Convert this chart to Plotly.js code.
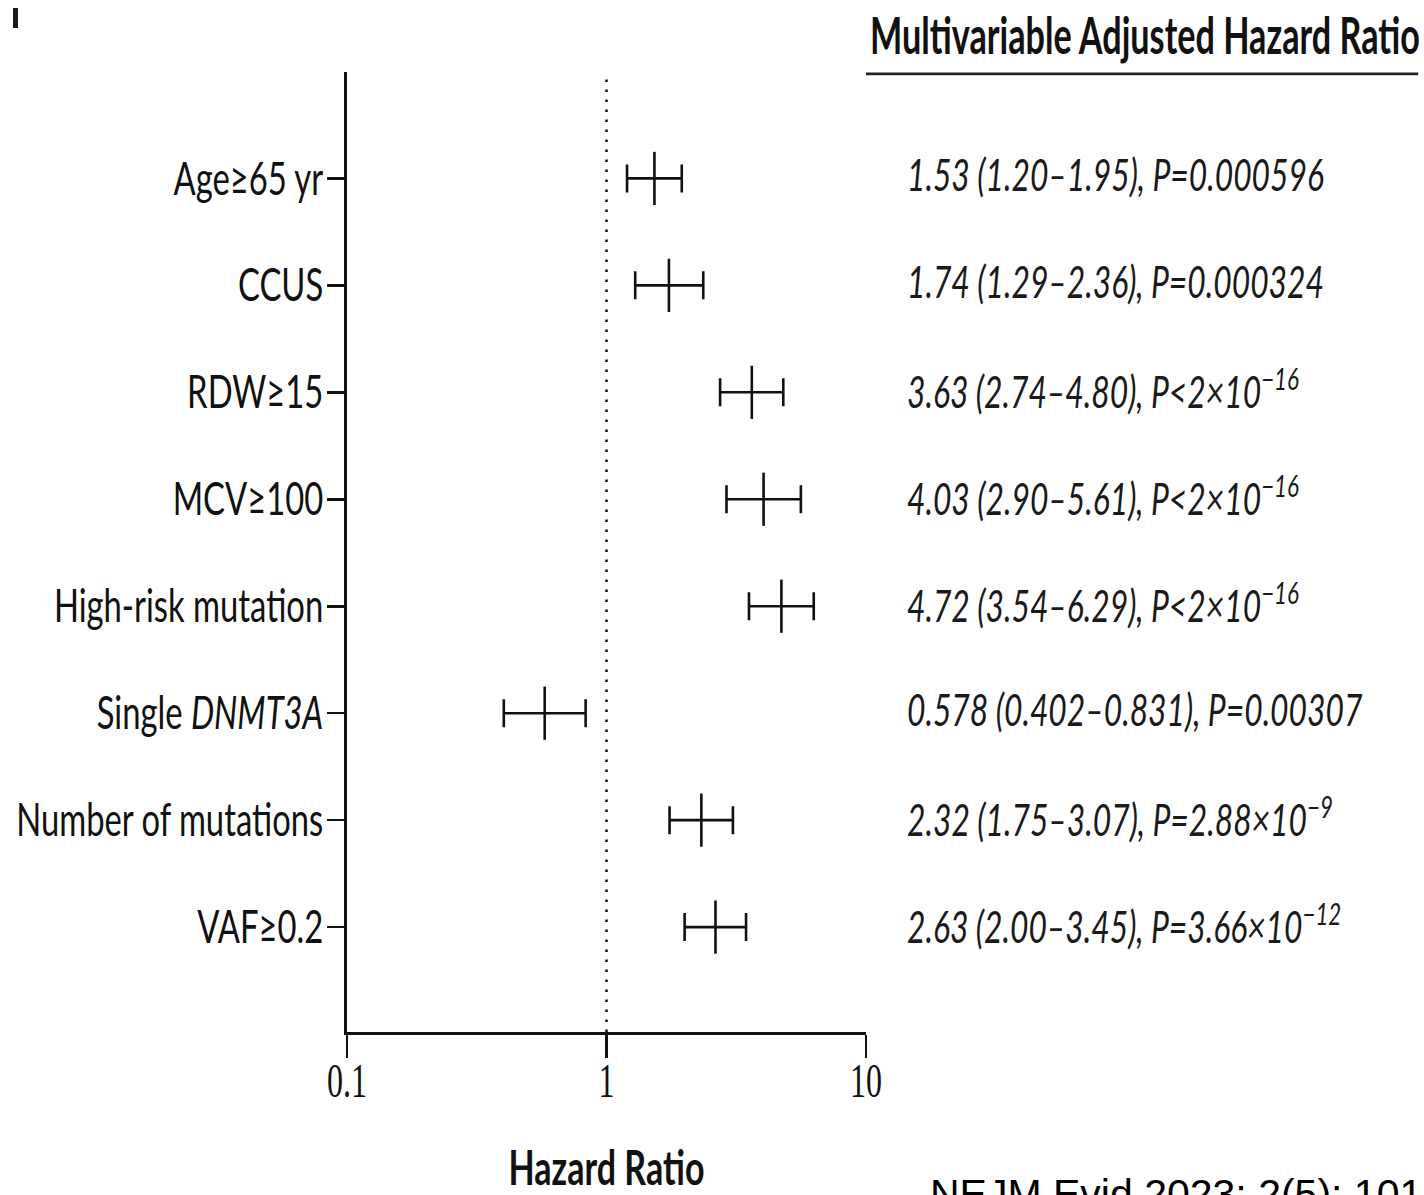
<!DOCTYPE html>
<html>
<head>
<meta charset="utf-8">
<script src="https://cdn.plot.ly/plotly-3.0.1.min.js"></script>
<style>
  html, body { margin: 0; padding: 0; background: #fff; }
  #chart { width: 1424px; height: 1195px; }
</style>
</head>
<body>
<div id="chart"></div>
<script>
// ---- data ----
var categories = ['Age≥65 yr', 'CCUS', 'RDW≥15', 'MCV≥100', 'High-risk mutation',
                  'Single <i>DNMT3A</i>', 'Number of mutations', 'VAF≥0.2'];
var hazardRatio = [1.53, 1.74, 3.63, 4.03, 4.72, 0.578, 2.32, 2.63];
var ciLower     = [1.20, 1.29, 2.74, 2.90, 3.54, 0.402, 1.75, 2.00];
var ciUpper     = [1.95, 2.36, 4.80, 5.61, 6.29, 0.831, 3.07, 3.45];
var pValueText  = ['P=0.000596', 'P=0.000324', 'P<2×10<sup>−16</sup>', 'P<2×10<sup>−16</sup>',
                   'P<2×10<sup>−16</sup>', 'P=0.00307', 'P=2.88×10<sup>−9</sup>', 'P=3.66×10<sup>−12</sup>'];
var xTickVals   = [0.1, 1, 10];
var xTickText   = ['0.1', '1', '10'];

// ---- styling ----
var SANS = 'Lato, "Open Sans", "Liberation Sans", sans-serif';
var SERIF = '"Liberation Serif", "DejaVu Serif", serif';
var idx = categories.map(function (_, i) { return i; });

function fmt(v) { return v < 1 ? v.toFixed(3) : v.toFixed(2); }

var trace = {
  type: 'scatter',
  mode: 'markers',
  x: hazardRatio,
  y: idx,
  marker: { symbol: 'line-ns', size: 38, color: '#000', line: { width: 2.6, color: '#111' } },
  error_x: {
    type: 'data', symmetric: false,
    array: hazardRatio.map(function (v, i) { return ciUpper[i] - v; }),
    arrayminus: hazardRatio.map(function (v, i) { return v - ciLower[i]; }),
    color: '#111', thickness: 2.6, width: 14
  },
  hoverinfo: 'skip',
  showlegend: false
};

var annotations = [];
categories.forEach(function (c, i) {
  annotations.push({
    xref: 'paper', yref: 'y', x: 1.075, y: i, yshift: 4, xanchor: 'left', yanchor: 'middle', align: 'left',
    showarrow: false,
    text: '<i>' + fmt(hazardRatio[i]) + ' (' + fmt(ciLower[i]) + '–' + fmt(ciUpper[i]) + '), ' + pValueText[i] + '</i>',
    font: { family: SANS, size: 44, color: '#1a1a1a' },
    name: 'stat'
  });
});
annotations.push({
  xref: 'paper', yref: 'paper', x: 1.003, y: 1.040, xanchor: 'left', yanchor: 'middle', align: 'left',
  showarrow: false, text: '<b>Multivariable Adjusted Hazard Ratio</b>',
  font: { family: SANS, size: 52, color: '#111' },
  name: 'title'
});
annotations.push({
  xref: 'paper', yref: 'paper', x: 1.1195, y: -0.1427, xanchor: 'left', yanchor: 'top', align: 'left',
  showarrow: false, text: 'NEJM Evid 2023; 2(5): 101',
  font: { family: '"Liberation Sans", Arial, sans-serif', size: 41, color: '#000' },
  name: 'cite'
});

var layout = {
  width: 1424, height: 1195,
  margin: { l: 347, r: 558, t: 72, b: 163, pad: 0 },
  paper_bgcolor: '#fff', plot_bgcolor: '#fff',
  showlegend: false,
  xaxis: {
    type: 'log', range: [-1, 1],
    tickmode: 'array', tickvals: xTickVals, ticktext: xTickText,
    ticks: 'outside', ticklen: 23, tickwidth: 2.6, tickcolor: '#111',
    showline: true, linewidth: 2.6, linecolor: '#111',
    showgrid: false, zeroline: false,
    tickfont: { family: SERIF, size: 48, color: '#111' },
    ticklabelstandoff: -18,
    title: { text: '<b>Hazard Ratio</b>', font: { family: SANS, size: 48, color: '#111' }, standoff: 50 }
  },
  yaxis: {
    range: [7.981, -0.995],
    tickmode: 'array', tickvals: idx, ticktext: categories,
    ticks: 'outside', ticklen: 17, tickwidth: 2.6, tickcolor: '#111',
    showline: true, linewidth: 2.6, linecolor: '#111',
    showgrid: false, zeroline: false,
    tickfont: { family: SANS, size: 46, color: '#111' },
    ticklabelstandoff: -5
  },
  shapes: [
    { type: 'line', xref: 'x', yref: 'paper', x0: 1, x1: 1, y0: 0, y1: 1,
      line: { color: '#111', width: 2.5, dash: '2.5px,7.5px' } },
    { type: 'line', xref: 'paper', yref: 'paper', x0: 1.0, x1: 2.064, y0: 0.998, y1: 0.998,
      line: { color: '#222', width: 2.6 } },
    { type: 'rect', xref: 'paper', yref: 'paper', x0: -0.6435, x1: -0.6339, y0: 1.0458, y1: 1.0667,
      line: { width: 0 }, fillcolor: '#1a1a1a' }
  ],
  annotations: annotations
};

// The source figure is horizontally compressed; squeeze the text glyphs to the same widths.
function squeeze(nodes, refNode, target) {
  if (!refNode) return;
  var k = target / refNode.getComputedTextLength();
  nodes.forEach(function (t) {
    var L = t.getComputedTextLength();
    t.setAttribute('textLength', (L * k).toFixed(1));
    t.setAttribute('lengthAdjust', 'spacingAndGlyphs');
  });
}

Plotly.newPlot('chart', [trace], layout, { displayModeBar: false, staticPlot: true }).then(function (gd) {
  var yt = Array.prototype.slice.call(gd.querySelectorAll('.ytick text'));
  squeeze(yt, yt[6], 307);
  var xt = Array.prototype.slice.call(gd.querySelectorAll('.xtick text'));
  squeeze(xt, xt[0], 40);
  var xtitle = Array.prototype.slice.call(gd.querySelectorAll('.xtitle'));
  squeeze(xtitle, xtitle[0], 196);
  var ann = Array.prototype.slice.call(gd.querySelectorAll('.annotation-text'));
  var stats = ann.slice(0, categories.length);
  squeeze(stats, stats[0], 417);
  squeeze([ann[categories.length]], ann[categories.length], 550);
});
</script>
</body>
</html>
